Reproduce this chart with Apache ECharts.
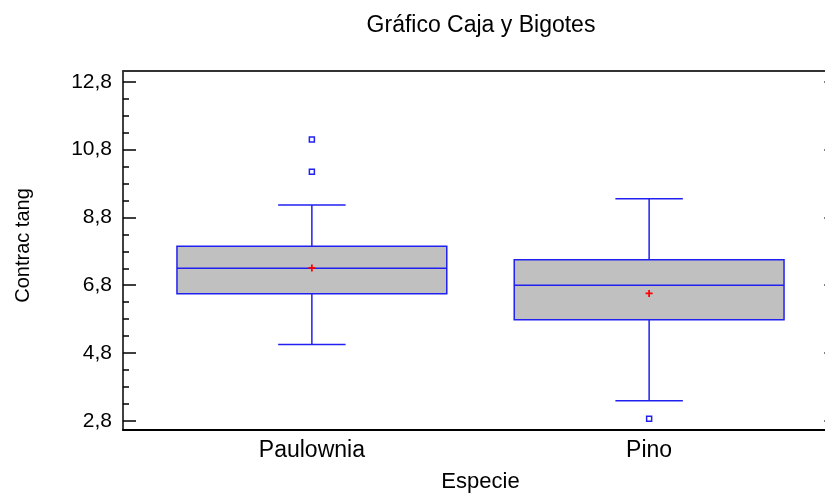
<!DOCTYPE html>
<html>
<head>
<meta charset="utf-8">
<script src="https://cdn.jsdelivr.net/npm/echarts@6/dist/echarts.min.js"></script>
<style>html,body{margin:0;padding:0;background:#fff}#c{width:825px;height:498px}</style>
</head>
<body>
<div id="c"></div>
<script>
// ---- data ----
const categories = ['Paulownia', 'Pino'];
const lowerWhisker = [5.05, 3.39];
const q1 = [6.55, 5.78];
const median = [7.30, 6.80];
const q3 = [7.95, 7.55];
const upperWhisker = [9.17, 9.35];
const means = [7.31, 6.56];
const outlierCat = [0, 0, 1];
const outlierVal = [11.10, 10.15, 2.86];
const yTicks = [2.8, 4.8, 6.8, 8.8, 10.8, 12.8];
const yMinorTicks = [3.3, 3.8, 4.3, 5.3, 5.8, 6.3, 7.3, 7.8, 8.3, 9.3, 9.8, 10.3, 11.3, 11.8, 12.3];

const FONT = '"Liberation Sans", Arial, sans-serif';
const BLUE = '#2020f0';

const boxData = categories.map((c, i) => [i + 1, lowerWhisker[i], q1[i], median[i], q3[i], upperWhisker[i]]);
const meanData = categories.map((c, i) => [i + 1, means[i]]);
const outlierData = outlierCat.map((c, i) => [c + 1, outlierVal[i]]);

const chart = echarts.init(document.getElementById('c'), null, {renderer: 'canvas'});

function renderBox(params, api) {
  const x = api.value(0);
  const lw = api.coord([x, api.value(1)]);
  const b1 = api.coord([x, api.value(2)]);
  const md = api.coord([x, api.value(3)]);
  const b3 = api.coord([x, api.value(4)]);
  const uw = api.coord([x, api.value(5)]);
  const halfBox = api.size([0.8, 0])[0] / 2;
  const halfCap = api.size([0.2, 0])[0] / 2;
  const cx = lw[0];
  const ls = {stroke: BLUE, lineWidth: 1.5};
  return {
    type: 'group',
    children: [
      {type: 'line', shape: {x1: cx, y1: b1[1], x2: cx, y2: lw[1]}, style: ls},
      {type: 'line', shape: {x1: cx, y1: b3[1], x2: cx, y2: uw[1]}, style: ls},
      {type: 'line', shape: {x1: cx - halfCap, y1: lw[1], x2: cx + halfCap, y2: lw[1]}, style: ls},
      {type: 'line', shape: {x1: cx - halfCap, y1: uw[1], x2: cx + halfCap, y2: uw[1]}, style: ls},
      {type: 'rect', shape: {x: cx - halfBox, y: b3[1], width: 2 * halfBox, height: b1[1] - b3[1]},
       style: {fill: '#c0c0c0', stroke: BLUE, lineWidth: 1.5}},
      {type: 'line', shape: {x1: cx - halfBox, y1: md[1], x2: cx + halfBox, y2: md[1]}, style: ls}
    ]
  };
}

const yMin = 2.53, yMax = 13.12;
const PLUS = 'path://M0,3H3V0H5V3H8V5H5V8H3V5H0Z';

chart.setOption({
  animation: false,
  backgroundColor: '#ffffff',
  title: {
    text: 'Gráfico Caja y Bigotes',
    left: 476, top: 9, textAlign: 'center',
    textStyle: {fontFamily: FONT, fontSize: 23, fontWeight: 'normal', color: '#000'}
  },
  grid: {left: 123, width: 715, top: 71, bottom: 68, containLabel: false, outerBoundsMode: 'none'},
  xAxis: [
    {
      type: 'value', min: 0.44, max: 2.56, position: 'bottom',
      splitLine: {show: false},
      axisLine: {show: true, lineStyle: {color: '#000', width: 2}},
      axisTick: {show: false},
      axisLabel: {
        customValues: [1, 2], margin: 9,
        formatter: v => categories[Math.round(v) - 1] || '',
        fontFamily: FONT, fontSize: 23, color: '#000'
      },
      name: 'Especie', nameLocation: 'middle', nameGap: 41,
      nameTextStyle: {fontFamily: FONT, fontSize: 22, color: '#000'}
    },
    {
      type: 'value', min: 0.44, max: 2.56, position: 'top',
      splitLine: {show: false},
      axisLine: {show: true, lineStyle: {color: '#333', width: 2}},
      axisTick: {show: false}, axisLabel: {show: false}
    }
  ],
  yAxis: [
    {
      type: 'value', min: yMin, max: yMax, position: 'left',
      splitLine: {show: false},
      axisLine: {show: true, lineStyle: {color: '#000', width: 1.5}},
      axisTick: {show: true, inside: true, length: 13, customValues: yTicks, lineStyle: {color: '#000', width: 1.5}},
      axisLabel: {
        customValues: yTicks, margin: 11,
        formatter: v => v.toFixed(1).replace('.', ','),
        fontFamily: FONT, fontSize: 21, color: '#000'
      },
      name: 'Contrac tang', nameLocation: 'middle', nameGap: 90,
      nameTextStyle: {fontFamily: FONT, fontSize: 20, color: '#000', padding: [0, 0, 0, 10]}
    },
    {
      type: 'value', min: yMin, max: yMax, position: 'left',
      splitLine: {show: false},
      axisLine: {show: false},
      axisTick: {show: true, inside: true, length: 6, customValues: yMinorTicks, lineStyle: {color: '#000', width: 1.5}},
      axisLabel: {show: false}
    },
    {
      type: 'value', min: yMin, max: yMax, position: 'right',
      splitLine: {show: false},
      axisLine: {show: true, lineStyle: {color: '#000', width: 1.5}},
      axisTick: {show: true, inside: true, length: 14, customValues: yTicks, lineStyle: {color: '#555', width: 1.5}},
      axisLabel: {show: false}
    }
  ],
  series: [
    {
      type: 'custom', xAxisIndex: 0, yAxisIndex: 0,
      renderItem: renderBox,
      encode: {x: 0, y: [1, 2, 3, 4, 5]},
      data: boxData, z: 2
    },
    {
      type: 'scatter', xAxisIndex: 0, yAxisIndex: 0,
      symbol: PLUS, symbolSize: 7,
      itemStyle: {color: '#ff0000', opacity: 1},
      data: meanData, z: 4
    },
    {
      type: 'scatter', xAxisIndex: 0, yAxisIndex: 0,
      symbol: 'rect', symbolSize: 5,
      itemStyle: {color: '#ffffff', borderColor: BLUE, borderWidth: 1.5, opacity: 1},
      data: outlierData, z: 3
    }
  ]
});
</script>
</body>
</html>
